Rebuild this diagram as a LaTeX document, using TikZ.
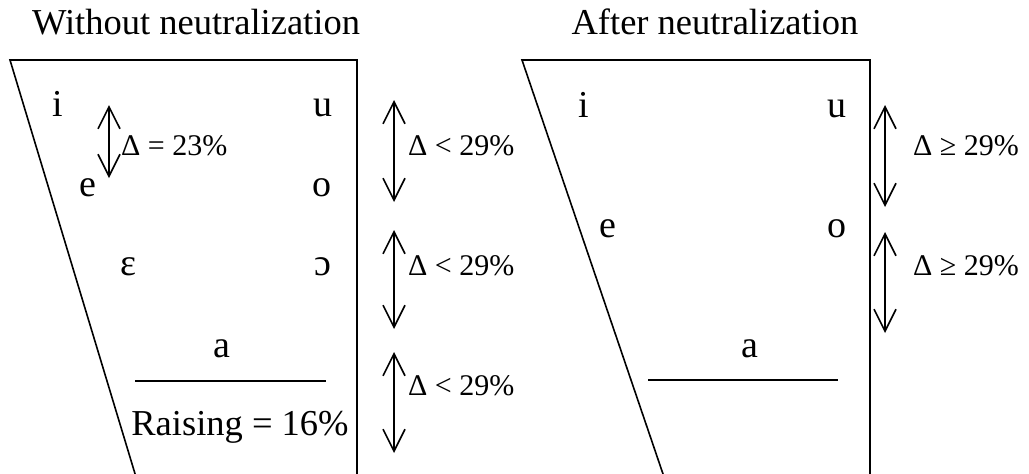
\documentclass[tikz,border=0pt]{standalone}
\usepackage{fontspec}
\setmainfont{Liberation Serif}
\usetikzlibrary{arrows.meta}
\tikzset{
  frame/.style={line width=1.6pt, line join=miter},
  vowel/.style={anchor=base, inner sep=0pt, font=\fontsize{38}{44}\selectfont},
  title/.style={anchor=base, inner sep=0pt, font=\fontsize{36.5}{42}\selectfont},
  dlabel/.style={anchor=base west, inner sep=0pt, font=\fontsize{30}{36}\selectfont},
  dbl/.style={line width=1.6pt, {Straight Barb[length=22pt,width=22pt]}-{Straight Barb[length=22pt,width=22pt]}},
  sep/.style={line width=1.6pt},
}
\begin{document}
\begin{tikzpicture}[x=1pt,y=-1pt]
\useasboundingbox (0,0) rectangle (1029,474);
% ---------- left panel ----------
\node[title] (t1) at (196,34) {Without neutralization};
\coordinate (L1) at (10,60);
\coordinate (L2) at (357,60);
\coordinate (L3) at (357,476);
\coordinate (L4) at (135.7,476);
\draw[frame] (L4) -- (L1) -- (L2) -- (L3);
\node[vowel] (li) at (58,116) {i};
\node[vowel] (lu) at (323,116) {u};
\node[vowel] (le) at (88,196) {e};
\node[vowel] (lo) at (322,196) {o};
\node[vowel] (leps) at (128,275) {ɛ};
\node[vowel] (lopen) at (323,275) {ɔ};
\node[vowel] (la) at (222,357) {a};
\coordinate (lsa) at (135,381);
\coordinate (lsb) at (326,381);
\draw[sep] (lsa) -- (lsb);
\node[title] (raise) at (240,435) {Raising = 16\%};
\coordinate (d0a) at (109,105);
\coordinate (d0b) at (109,178);
\draw[dbl] (d0a) -- (d0b);
\node[dlabel] (d0) at (121,155) {Δ = 23\%};
\coordinate (a1a) at (394,100);
\coordinate (a1b) at (394,202);
\coordinate (a2a) at (394,230);
\coordinate (a2b) at (394,329);
\coordinate (a3a) at (394,352);
\coordinate (a3b) at (394,453);
\draw[dbl] (a1a) -- (a1b);
\draw[dbl] (a2a) -- (a2b);
\draw[dbl] (a3a) -- (a3b);
\node[dlabel] (g1) at (408,155) {Δ < 29\%};
\node[dlabel] (g2) at (408,275) {Δ < 29\%};
\node[dlabel] (g3) at (408,395) {Δ < 29\%};
% ---------- right panel ----------
\node[title] (t2) at (715,34) {After neutralization};
\coordinate (R1) at (522,60);
\coordinate (R2) at (870,60);
\coordinate (R3) at (870,476);
\coordinate (R4) at (663.7,476);
\draw[frame] (R4) -- (R1) -- (R2) -- (R3);
\node[vowel] (ri) at (584,117) {i};
\node[vowel] (ru) at (837,117) {u};
\node[vowel] (re) at (608,237) {e};
\node[vowel] (ro) at (837,237) {o};
\node[vowel] (ra) at (750,357) {a};
\coordinate (rsa) at (648,380);
\coordinate (rsb) at (838,380);
\draw[sep] (rsa) -- (rsb);
\coordinate (b1a) at (885,105);
\coordinate (b1b) at (885,207);
\coordinate (b2a) at (885,232);
\coordinate (b2b) at (885,333);
\draw[dbl] (b1a) -- (b1b);
\draw[dbl] (b2a) -- (b2b);
\node[dlabel] (h1) at (913,155) {Δ ≥ 29\%};
\node[dlabel] (h2) at (913,275) {Δ ≥ 29\%};
\end{tikzpicture}
\end{document}
